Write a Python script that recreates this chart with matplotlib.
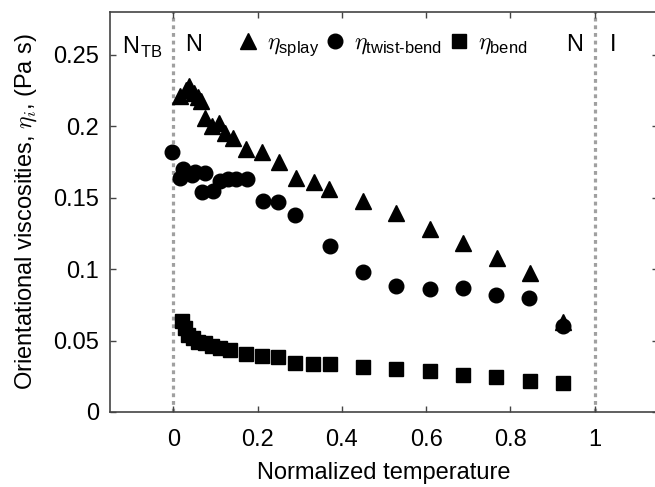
import matplotlib
matplotlib.use("Agg")
import matplotlib.pyplot as plt

plt.rcParams['font.family'] = ['Liberation Sans', 'DejaVu Sans']
plt.rcParams['mathtext.fontset'] = 'custom'
plt.rcParams['mathtext.rm'] = 'Liberation Sans'
plt.rcParams['mathtext.it'] = 'cmmi10'
plt.rcParams['mathtext.sf'] = 'Liberation Sans'

# data (normalized temperature, viscosity in Pa s)
splay_x = [0.017, 0.031, 0.038, 0.050, 0.059, 0.066, 0.075, 0.092, 0.109, 0.123, 0.141,
           0.173, 0.211, 0.251, 0.292, 0.334, 0.370, 0.450, 0.528, 0.609, 0.687, 0.768, 0.846, 0.924]
splay_y = [0.221, 0.2255, 0.228, 0.2235, 0.2205, 0.218, 0.206, 0.200, 0.2025, 0.195, 0.192,
           0.184, 0.182, 0.175, 0.164, 0.161, 0.156, 0.148, 0.139, 0.128, 0.118, 0.1075, 0.097, 0.063]

tb_x = [-0.003, 0.017, 0.024, 0.045, 0.052, 0.069, 0.076, 0.095, 0.110, 0.130, 0.150, 0.175,
        0.213, 0.249, 0.289, 0.372, 0.450, 0.528, 0.609, 0.687, 0.765, 0.844, 0.924]
tb_y = [0.182, 0.164, 0.170, 0.166, 0.168, 0.154, 0.167, 0.155, 0.162, 0.163, 0.163, 0.163,
        0.148, 0.147, 0.138, 0.116, 0.098, 0.088, 0.086, 0.087, 0.082, 0.080, 0.060]

bend_x = [0.021, 0.028, 0.036, 0.047, 0.059, 0.076, 0.092, 0.111, 0.135, 0.173, 0.211, 0.249,
          0.289, 0.332, 0.372, 0.450, 0.528, 0.609, 0.687, 0.765, 0.846, 0.924]
bend_y = [0.064, 0.059, 0.054, 0.052, 0.049, 0.048, 0.046, 0.045, 0.0435, 0.0405, 0.039, 0.0385,
          0.034, 0.0335, 0.0335, 0.0315, 0.030, 0.029, 0.026, 0.0245, 0.022, 0.020]

xticks = [0, 0.2, 0.4, 0.6, 0.8, 1]
xticklabels = ['0', '0.2', '0.4', '0.6', '0.8', '1']
yticks = [0, 0.05, 0.1, 0.15, 0.2, 0.25]
yticklabels = ['0', '0.05', '0.1', '0.15', '0.2', '0.25']
transitions = [0, 1]

fig = plt.figure(figsize=(6.55, 4.87), dpi=100)
ax = fig.add_axes([110/655, 75/487, 548/655, 400/487])

for t in transitions:
    ax.axvline(t, color='#a0a0a0', lw=2.3, dashes=(1.2, 1.2), zorder=1)

ax.plot(splay_x, splay_y, '^', color='black', ms=11, ls='none',
        label=r'$\eta_{\mathrm{splay}}$', zorder=3)
ax.plot(tb_x, tb_y, 'o', color='black', ms=10.5, ls='none',
        label=r'$\eta_{\mathrm{twist}\text{-}\mathrm{bend}}$', zorder=3)
ax.plot(bend_x, bend_y, 's', color='black', ms=10.5, ls='none',
        label=r'$\eta_{\mathrm{bend}}$', zorder=3)

ax.set_xlim(-0.15, 1.15)
ax.set_ylim(0, 0.28)
ax.set_xticks(xticks)
ax.set_xticklabels(xticklabels)
ax.set_yticks(yticks)
ax.set_yticklabels(yticklabels)
ax.tick_params(direction='in', length=4, width=1, colors='#444444', labelcolor='black',
               labelsize=17, top=True, right=True)
ax.tick_params(axis='x', pad=12)
ax.tick_params(axis='y', pad=8)
for s in ax.spines.values():
    s.set_color('#444444')
    s.set_linewidth(1.2)

ax.set_xlabel('Normalized temperature', fontsize=17, labelpad=8)
ax.set_ylabel(r'Orientational viscosities, $\eta_i$, (Pa s)', fontsize=17, labelpad=10)

ax.text(-0.122, 0.255, r'$\mathrm{N}_{\mathrm{TB}}$', fontsize=17, va='center', ha='left')
ax.text(0.048, 0.257, 'N', fontsize=17, va='center', ha='center')
ax.text(0.953, 0.257, 'N', fontsize=17, va='center', ha='center')
ax.text(1.043, 0.257, 'I', fontsize=17, va='center', ha='center')

ax.legend(loc='center left', bbox_to_anchor=(0.234, 0.918), ncol=3, frameon=False,
          fontsize=17, handlelength=0.8, handletextpad=0.4, columnspacing=0.3,
          borderaxespad=0, borderpad=0)

fig.savefig('out.png', dpi=100)
